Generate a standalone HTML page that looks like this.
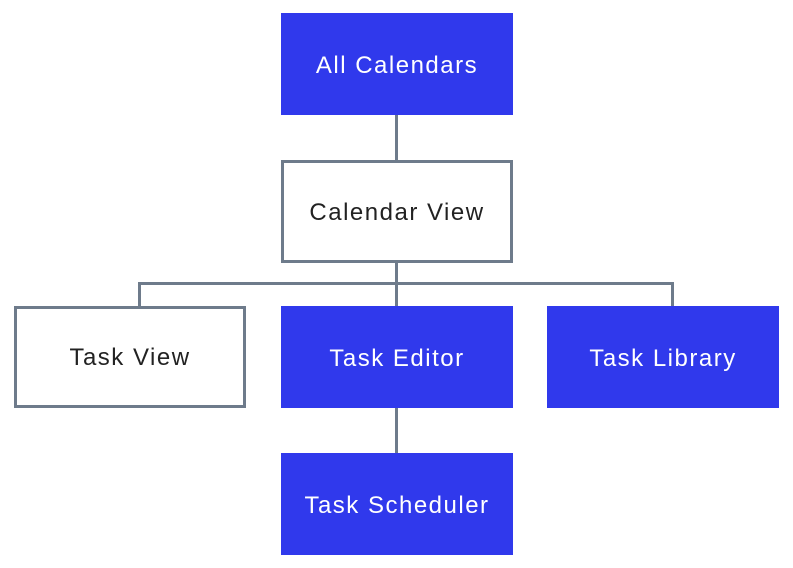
<!DOCTYPE html>
<html><head><style>
body{margin:0;width:793px;height:568px;background:#fff;position:relative;overflow:hidden;font-family:"Liberation Sans",sans-serif;}
.b{position:absolute;box-sizing:border-box;display:flex;align-items:center;justify-content:center;font-size:24px;letter-spacing:1.5px;padding-top:4px;}
.f{background:#3039EC;color:#fff;}
.o{background:#fff;border:3px solid #6E7B8B;color:#222;padding-top:2px;}
.l{position:absolute;background:#6E7B8B;}
</style></head><body>
<div class="l" style="left:395px;top:114px;width:3px;height:48px"></div>
<div class="l" style="left:395px;top:261px;width:3px;height:47px"></div>
<div class="l" style="left:138px;top:282px;width:536px;height:3px"></div>
<div class="l" style="left:138px;top:282px;width:3px;height:26px"></div>
<div class="l" style="left:671px;top:282px;width:3px;height:26px"></div>
<div class="l" style="left:395px;top:406px;width:3px;height:49px"></div>
<div class="b f" style="left:281px;top:13px;width:232px;height:102px">All Calendars</div>
<div class="b o" style="left:281px;top:160px;width:232px;height:103px">Calendar View</div>
<div class="b o" style="left:14px;top:306px;width:232px;height:102px">Task View</div>
<div class="b f" style="left:281px;top:306px;width:232px;height:102px">Task Editor</div>
<div class="b f" style="left:547px;top:306px;width:232px;height:102px">Task Library</div>
<div class="b f" style="left:281px;top:453px;width:232px;height:102px">Task Scheduler</div>
</body></html>
